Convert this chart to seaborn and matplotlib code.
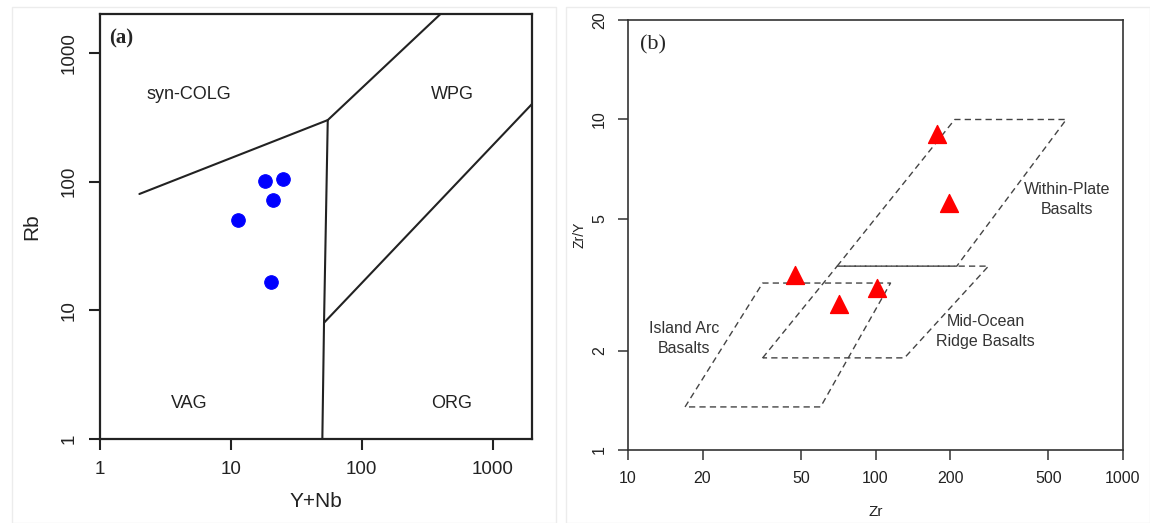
import numpy as np
import pandas as pd
from matplotlib import pyplot as plt
from matplotlib.patches import Rectangle
import seaborn as sns

sns.set_style('white')
plt.rcParams['font.family'] = ['Liberation Sans', 'DejaVu Sans']

# (a) Rb vs Y+Nb samples
ynb = [18.2, 24.9, 20.9, 11.3, 20.2]
rb = [101, 105, 72, 50, 16.6]

# (a) field boundaries
colg_x = [2, 55]
colg_y = [80, 300]
wpg_x = [55, 400]
wpg_y = [300, 2000]
vag_x = [55, 51.5, 50]
vag_y = [300, 8, 1]
org_x = [51.5, 2000]
org_y = [8, 400]

# (b) Zr/Y vs Zr samples
zr = [178, 199, 47.1, 101, 71]
zry = [9.05, 5.58, 3.38, 3.10, 2.76]

# (b) field polygons
wpb_x = [70, 209, 590, 213]
wpb_y = [3.6, 10, 10, 3.6]
morb_x = [35, 70, 286, 131]
morb_y = [1.9, 3.6, 3.6, 1.9]
iab_x = [17, 35, 115, 60]
iab_y = [1.35, 3.2, 3.2, 1.35]

fig = plt.figure(figsize=(11.5, 5.23), dpi=100)
fig.patches.append(Rectangle((12 / 1150, 0), 544 / 1150, 516 / 523, transform=fig.transFigure,
                             fill=False, ec='#ececec', lw=1))
fig.patches.append(Rectangle((566 / 1150, 0), 584 / 1150, 516 / 523, transform=fig.transFigure,
                             fill=False, ec='#ececec', lw=1))

# ---------- panel (a)
ax1 = fig.add_axes([100 / 1150, 1 - 439 / 523, 432 / 1150, 425 / 523])
ax1.set_xscale('log')
ax1.set_yscale('log')
for bx, by in [(colg_x, colg_y), (wpg_x, wpg_y), (vag_x, vag_y), (org_x, org_y)]:
    ax1.plot(bx, by, color='#222222', lw=1.5)
df_a = pd.DataFrame({'Y+Nb': ynb, 'Rb': rb})
sns.scatterplot(data=df_a, x='Y+Nb', y='Rb', ax=ax1, color='#0000ff', s=95,
                marker='o', edgecolor='#0000ff', zorder=5)
ax1.set_xlim(1, 2000)
ax1.set_ylim(1, 2000)
ax1.set_xticks([1, 10, 100, 1000])
ax1.set_xticklabels(['1', '10', '100', '1000'])
ax1.set_yticks([1, 10, 100, 1000])
ax1.set_yticklabels(['1', '10', '100', '1000'], rotation=90, va='center')
ax1.minorticks_off()
ax1.tick_params(axis='both', which='major', direction='out', length=8, width=1.5,
                labelsize=13.5, color='#222222', labelcolor='#222222', pad=8,
                left=True, bottom=True)
for sp in ax1.spines.values():
    sp.set_color('#222222')
    sp.set_linewidth(1.6)
ax1.set_xlabel('Y+Nb', fontsize=15, color='#222222', labelpad=10)
ax1.set_ylabel('Rb', fontsize=15, color='#222222', labelpad=14)
ax1.text(4.8, 470, 'syn-COLG', fontsize=13, color='#222222', ha='center', va='center')
ax1.text(495, 470, 'WPG', fontsize=13, color='#222222', ha='center', va='center')
ax1.text(4.8, 1.88, 'VAG', fontsize=13, color='#222222', ha='center', va='center')
ax1.text(490, 1.88, 'ORG', fontsize=13, color='#222222', ha='center', va='center')
ax1.text(0.022, 0.965, '(a)', transform=ax1.transAxes, fontsize=15, fontweight='bold',
         family='Liberation Serif', ha='left', va='top')

# ---------- panel (b)
ax2 = fig.add_axes([628 / 1150, 1 - 450 / 523, 495 / 1150, 430 / 523])
ax2.set_xscale('log')
ax2.set_yscale('log')
for px, py in [(wpb_x, wpb_y), (morb_x, morb_y), (iab_x, iab_y)]:
    ax2.plot(px + px[:1], py + py[:1], color='#444444', lw=1.0, ls=(0, (4.5, 3)))
df_b = pd.DataFrame({'Zr': zr, 'Zr/Y': zry})
sns.scatterplot(data=df_b, x='Zr', y='Zr/Y', ax=ax2, color='#ff0000', s=165,
                marker='^', edgecolor='#ff0000', zorder=5)
ax2.set_xlim(10, 1000)
ax2.set_ylim(1, 20)
bx_ticks = [10, 20, 50, 100, 200, 500, 1000]
by_ticks = [1, 2, 5, 10, 20]
ax2.set_xticks(bx_ticks)
ax2.set_xticklabels([str(t) for t in bx_ticks])
ax2.set_yticks(by_ticks)
ax2.set_yticklabels([str(t) for t in by_ticks], rotation=90, va='center')
ax2.minorticks_off()
ax2.tick_params(axis='both', which='major', direction='out', length=7, width=1.1,
                labelsize=11.5, color='#333333', labelcolor='#222222', pad=8,
                left=True, bottom=True)
for sp in ax2.spines.values():
    sp.set_color('#333333')
    sp.set_linewidth(1.2)
ax2.set_xlabel('Zr', fontsize=11, color='#222222', labelpad=14)
ax2.set_ylabel('Zr/Y', fontsize=10, color='#222222', labelpad=4)
ax2.text(596, 5.74, 'Within-Plate\nBasalts', fontsize=11.5, color='#333333',
         ha='center', va='center', linespacing=1.4)
ax2.text(279, 2.28, 'Mid-Ocean\nRidge Basalts', fontsize=11.5, color='#333333',
         ha='center', va='center', linespacing=1.4)
ax2.text(16.9, 2.18, 'Island Arc\nBasalts', fontsize=11.5, color='#333333',
         ha='center', va='center', linespacing=1.4)
ax2.text(0.025, 0.965, '(b)', transform=ax2.transAxes, fontsize=16,
         family='Liberation Serif', ha='left', va='top')

fig.savefig('out.png', dpi=100)
